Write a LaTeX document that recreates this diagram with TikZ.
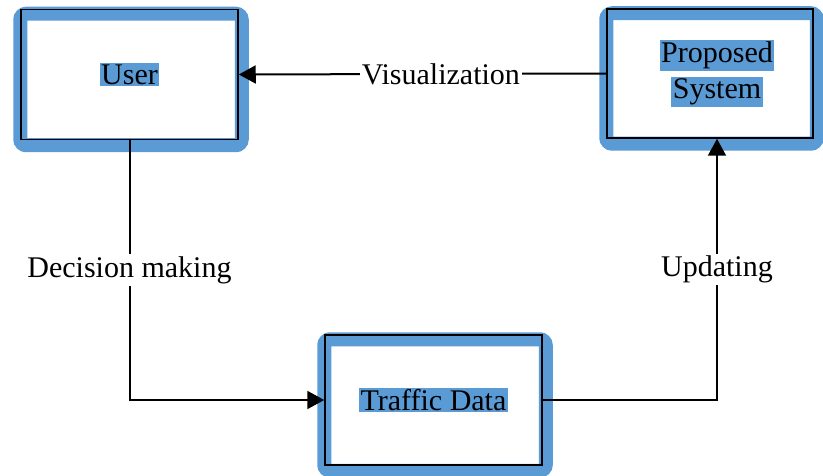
\documentclass[tikz,border=0pt]{standalone}
\usepackage{fontspec}
\setmainfont{Liberation Serif}
\usepackage{tikz}
\usetikzlibrary{arrows.meta, positioning, calc, backgrounds}
\definecolor{frameblue}{RGB}{91, 155, 213}
\setlength{\fboxsep}{1.5pt}
\newcommand{\hlbox}[1]{\colorbox{frameblue}{#1}}
\tikzstyle{block} = [rectangle, draw=black, line width=1.5pt, minimum width=217pt, minimum height=130pt, text centered, align=center, font=\fontsize{30}{35}\selectfont]
\tikzstyle{frame} = [draw=frameblue, line width=14pt, rounded corners=6pt]
\tikzstyle{arrow} = [line width=2pt, -{Triangle[length=17pt, width=18pt]}]
\tikzstyle{tag} = [fill=white, inner sep=2pt, font=\fontsize{30}{35}\selectfont]

\begin{document}
\begin{tikzpicture}[x=1pt, y=1pt]
    \useasboundingbox (0, 0) rectangle (823, 475);

    % Nodes
    \node[block] (user) at (129.5, 400.5) {\hlbox{User}};
    \node[block, minimum width=206pt, minimum height=129pt, text width=190pt] (system) at (710, 401.5) {\hspace*{14pt}\hlbox{Proposed}\\[1pt]\hspace*{14pt}\hlbox{System}};
    \node[block] (traffic) at (433.5, 75) {\hlbox{Traffic Data}};

    % Frames
    \begin{scope}[on background layer]
        \foreach \n in {user, system, traffic}
            \draw[frame] ([shift={(0, -5)}]\n.north west) rectangle ([shift={(3, -5)}]\n.south east);
    \end{scope}

    % Connectors
    \draw[arrow] (system.west) -- (user.east) node[tag, pos=0.45] {Visualization};
    \draw[arrow] (user.south) |- (traffic.west) node[tag, pos=0.25] {Decision making};
    \draw[arrow] (traffic.east) -| ([xshift=7pt]system.south) node[tag, pos=0.75] {Updating};
\end{tikzpicture}
\end{document}
